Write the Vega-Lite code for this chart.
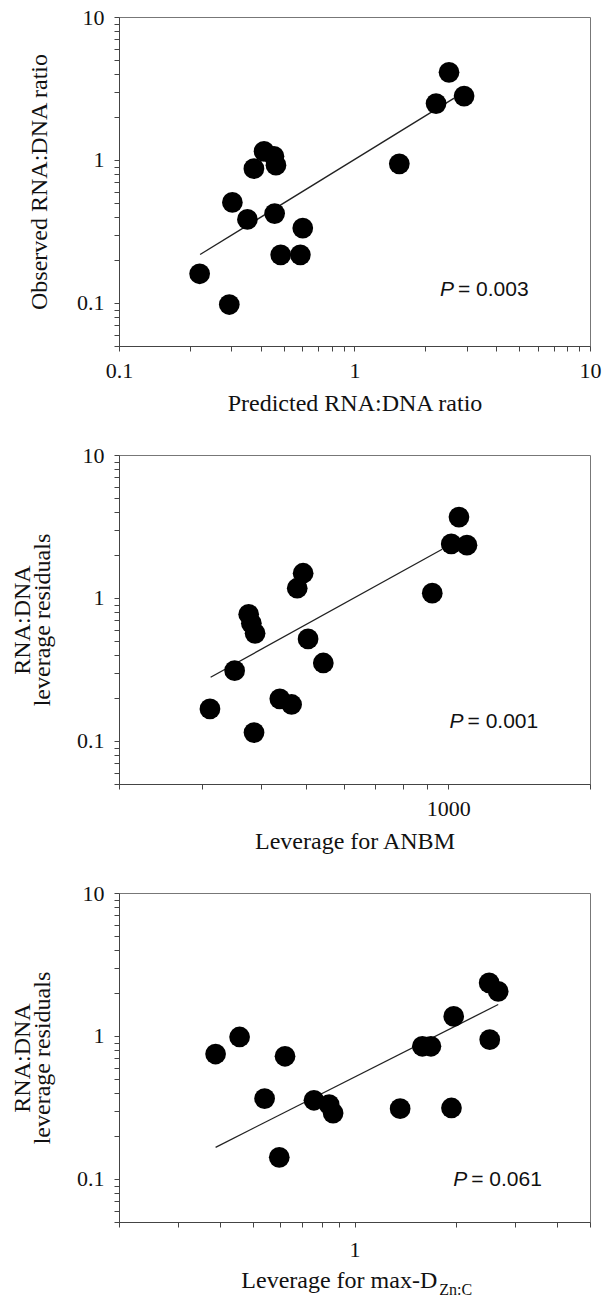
{
  "$schema": "https://vega.github.io/schema/vega-lite/v6.json",
  "background": "white",
  "padding": {"left": 10, "top": 5, "right": 5, "bottom": 5},
  "bounds": "flush",
  "spacing": 109,
  "config": {
    "view": {"stroke": "#777", "strokeWidth": 1},
    "axis": {
      "grid": false,
      "domainColor": "#444",
      "tickColor": "#444",
      "tickSize": 5,
      "labelFont": "Liberation Serif",
      "labelFontSize": 22,
      "labelColor": "#111",
      "titleFont": "Liberation Serif",
      "titleFontSize": 24,
      "titleFontWeight": "normal",
      "titleColor": "#111",
      "labelOverlap": false,
      "labelFlush": false
    },
    "axisX": {"labelPadding": 9, "titlePadding": 10},
    "axisY": {"labelPadding": 10, "titlePadding": 25}
  },
  "datasets": {
    "p1": [
      {"x": 2.52, "y": 4.1}, {"x": 2.92, "y": 2.8}, {"x": 2.22, "y": 2.48}, {"x": 1.55, "y": 0.94},
      {"x": 0.413, "y": 1.15}, {"x": 0.455, "y": 1.06}, {"x": 0.464, "y": 0.92}, {"x": 0.374, "y": 0.87},
      {"x": 0.303, "y": 0.505}, {"x": 0.351, "y": 0.384}, {"x": 0.458, "y": 0.422}, {"x": 0.603, "y": 0.334},
      {"x": 0.486, "y": 0.217}, {"x": 0.589, "y": 0.217}, {"x": 0.22, "y": 0.16}, {"x": 0.294, "y": 0.0975}
    ],
    "l1": [{"x": 0.221, "y": 0.218}, {"x": 2.65, "y": 2.71}],
    "p2": [
      {"x": 1054, "y": 3.68}, {"x": 1015, "y": 2.39}, {"x": 1096, "y": 2.34}, {"x": 925, "y": 1.08},
      {"x": 492, "y": 1.49}, {"x": 478, "y": 1.17}, {"x": 377, "y": 0.769}, {"x": 382, "y": 0.665},
      {"x": 389, "y": 0.566}, {"x": 504, "y": 0.517}, {"x": 543, "y": 0.351}, {"x": 352, "y": 0.31},
      {"x": 439, "y": 0.197}, {"x": 465, "y": 0.18}, {"x": 312, "y": 0.1675}, {"x": 387, "y": 0.1144}
    ],
    "l2": [{"x": 313, "y": 0.279}, {"x": 971, "y": 2.19}],
    "p3": [
      {"x": 2.51, "y": 2.35}, {"x": 2.67, "y": 2.05}, {"x": 1.97, "y": 1.37}, {"x": 2.52, "y": 0.942},
      {"x": 1.59, "y": 0.847}, {"x": 1.686, "y": 0.847}, {"x": 0.456, "y": 0.984}, {"x": 0.387, "y": 0.748},
      {"x": 0.622, "y": 0.721}, {"x": 0.541, "y": 0.365}, {"x": 0.758, "y": 0.355}, {"x": 0.841, "y": 0.331},
      {"x": 0.864, "y": 0.289}, {"x": 1.366, "y": 0.31}, {"x": 1.94, "y": 0.3136}, {"x": 0.598, "y": 0.1417}
    ],
    "l3": [{"x": 0.387, "y": 0.1665}, {"x": 2.67, "y": 1.66}],
    "t1": [{"p": "P", "rest": "= 0.003"}],
    "t2": [{"p": "P", "rest": "= 0.001"}],
    "t3": [{"p": "P", "rest": "= 0.061", "xt": "Leverage for max-D", "sub": "Zn:C"}]
  },
  "vconcat": [
    {
      "width": 471,
      "height": 329,
      "layer": [
        {"data": {"name": "l1"}, "mark": {"type": "line", "color": "#222", "strokeWidth": 1.3},
          "encoding": {
            "x": {"field": "x", "type": "quantitative",
              "scale": {"type": "log", "domain": [0.1, 10], "nice": false},
              "axis": {"title": "Predicted RNA:DNA ratio",
                "values": [0.1, 0.2, 0.3, 0.4, 0.5, 0.6, 0.7, 0.8, 0.9, 1, 2, 3, 4, 5, 6, 7, 8, 9, 10],
                "labelExpr": "datum.value == 0.1 ? '0.1' : datum.value == 1 ? '1' : datum.value == 10 ? '10' : ''"}},
            "y": {"field": "y", "type": "quantitative",
              "scale": {"type": "log", "domain": [0.05, 10], "nice": false},
              "axis": {"title": "Observed RNA:DNA ratio",
                "values": [0.05, 0.06, 0.07, 0.08, 0.09, 0.1, 0.2, 0.3, 0.4, 0.5, 0.6, 0.7, 0.8, 0.9, 1, 2, 3, 4, 5, 6, 7, 8, 9, 10],
                "labelExpr": "datum.value == 0.1 ? '0.1' : datum.value == 1 ? '1' : datum.value == 10 ? '10' : ''"}}}},
        {"data": {"name": "p1"}, "mark": {"type": "circle", "size": 430, "color": "black", "opacity": 1},
          "encoding": {
            "x": {"field": "x", "type": "quantitative",
              "scale": {"type": "log", "domain": [0.1, 10], "nice": false},
              "axis": {"title": "Predicted RNA:DNA ratio",
                "values": [0.1, 0.2, 0.3, 0.4, 0.5, 0.6, 0.7, 0.8, 0.9, 1, 2, 3, 4, 5, 6, 7, 8, 9, 10],
                "labelExpr": "datum.value == 0.1 ? '0.1' : datum.value == 1 ? '1' : datum.value == 10 ? '10' : ''"}},
            "y": {"field": "y", "type": "quantitative",
              "scale": {"type": "log", "domain": [0.05, 10], "nice": false},
              "axis": {"title": "Observed RNA:DNA ratio",
                "values": [0.05, 0.06, 0.07, 0.08, 0.09, 0.1, 0.2, 0.3, 0.4, 0.5, 0.6, 0.7, 0.8, 0.9, 1, 2, 3, 4, 5, 6, 7, 8, 9, 10],
                "labelExpr": "datum.value == 0.1 ? '0.1' : datum.value == 1 ? '1' : datum.value == 10 ? '10' : ''"}}}},
        {"data": {"name": "t1"},
          "mark": {"type": "text", "font": "Liberation Sans", "fontSize": 21, "fontStyle": "italic", "align": "right", "baseline": "middle", "color": "#111"},
          "encoding": {"x": {"datum": 2.645, "type": "quantitative"}, "y": {"datum": 0.124, "type": "quantitative"}, "text": {"field": "p"}}},
        {"data": {"name": "t1"},
          "mark": {"type": "text", "font": "Liberation Sans", "fontSize": 21, "align": "left", "baseline": "middle", "dx": 4, "color": "#111"},
          "encoding": {"x": {"datum": 2.645, "type": "quantitative"}, "y": {"datum": 0.124, "type": "quantitative"}, "text": {"field": "rest"}}}
      ]
    },
    {
      "width": 471,
      "height": 329,
      "layer": [
        {"data": {"name": "l2"}, "mark": {"type": "line", "color": "#222", "strokeWidth": 1.3},
          "encoding": {
            "x": {"field": "x", "type": "quantitative",
              "scale": {"type": "log", "domain": [200, 2000], "nice": false},
              "axis": {"title": "Leverage for ANBM",
                "values": [200, 300, 400, 500, 600, 700, 800, 900, 1000, 2000],
                "labelExpr": "datum.value == 1000 ? '1000' : ''"}},
            "y": {"field": "y", "type": "quantitative",
              "scale": {"type": "log", "domain": [0.05, 10], "nice": false},
              "axis": {"title": ["RNA:DNA", "leverage residuals"], "titleLineHeight": 20, "titlePadding": 22,
                "values": [0.05, 0.06, 0.07, 0.08, 0.09, 0.1, 0.2, 0.3, 0.4, 0.5, 0.6, 0.7, 0.8, 0.9, 1, 2, 3, 4, 5, 6, 7, 8, 9, 10],
                "labelExpr": "datum.value == 0.1 ? '0.1' : datum.value == 1 ? '1' : datum.value == 10 ? '10' : ''"}}}},
        {"data": {"name": "p2"}, "mark": {"type": "circle", "size": 430, "color": "black", "opacity": 1},
          "encoding": {
            "x": {"field": "x", "type": "quantitative",
              "scale": {"type": "log", "domain": [200, 2000], "nice": false},
              "axis": {"title": "Leverage for ANBM",
                "values": [200, 300, 400, 500, 600, 700, 800, 900, 1000, 2000],
                "labelExpr": "datum.value == 1000 ? '1000' : ''"}},
            "y": {"field": "y", "type": "quantitative",
              "scale": {"type": "log", "domain": [0.05, 10], "nice": false},
              "axis": {"title": ["RNA:DNA", "leverage residuals"], "titleLineHeight": 20, "titlePadding": 22,
                "values": [0.05, 0.06, 0.07, 0.08, 0.09, 0.1, 0.2, 0.3, 0.4, 0.5, 0.6, 0.7, 0.8, 0.9, 1, 2, 3, 4, 5, 6, 7, 8, 9, 10],
                "labelExpr": "datum.value == 0.1 ? '0.1' : datum.value == 1 ? '1' : datum.value == 10 ? '10' : ''"}}}},
        {"data": {"name": "t2"},
          "mark": {"type": "text", "font": "Liberation Sans", "fontSize": 21, "fontStyle": "italic", "align": "right", "baseline": "middle", "color": "#111"},
          "encoding": {"x": {"datum": 1078, "type": "quantitative"}, "y": {"datum": 0.1347, "type": "quantitative"}, "text": {"field": "p"}}},
        {"data": {"name": "t2"},
          "mark": {"type": "text", "font": "Liberation Sans", "fontSize": 21, "align": "left", "baseline": "middle", "dx": 4, "color": "#111"},
          "encoding": {"x": {"datum": 1078, "type": "quantitative"}, "y": {"datum": 0.1347, "type": "quantitative"}, "text": {"field": "rest"}}}
      ]
    },
    {
      "width": 471,
      "height": 329,
      "layer": [
        {"data": {"name": "l3"}, "mark": {"type": "line", "color": "#222", "strokeWidth": 1.3},
          "encoding": {
            "x": {"field": "x", "type": "quantitative",
              "scale": {"type": "log", "domain": [0.2, 5], "nice": false},
              "axis": {"title": null, "labelPadding": 12,
                "values": [0.2, 0.3, 0.4, 0.5, 0.6, 0.7, 0.8, 0.9, 1, 2, 3, 4, 5],
                "labelExpr": "datum.value == 1 ? '1' : ''"}},
            "y": {"field": "y", "type": "quantitative",
              "scale": {"type": "log", "domain": [0.05, 10], "nice": false},
              "axis": {"title": ["RNA:DNA", "leverage residuals"], "titleLineHeight": 20, "titlePadding": 22,
                "values": [0.05, 0.06, 0.07, 0.08, 0.09, 0.1, 0.2, 0.3, 0.4, 0.5, 0.6, 0.7, 0.8, 0.9, 1, 2, 3, 4, 5, 6, 7, 8, 9, 10],
                "labelExpr": "datum.value == 0.1 ? '0.1' : datum.value == 1 ? '1' : datum.value == 10 ? '10' : ''"}}}},
        {"data": {"name": "p3"}, "mark": {"type": "circle", "size": 430, "color": "black", "opacity": 1},
          "encoding": {
            "x": {"field": "x", "type": "quantitative",
              "scale": {"type": "log", "domain": [0.2, 5], "nice": false},
              "axis": {"title": null, "labelPadding": 12,
                "values": [0.2, 0.3, 0.4, 0.5, 0.6, 0.7, 0.8, 0.9, 1, 2, 3, 4, 5],
                "labelExpr": "datum.value == 1 ? '1' : ''"}},
            "y": {"field": "y", "type": "quantitative",
              "scale": {"type": "log", "domain": [0.05, 10], "nice": false},
              "axis": {"title": ["RNA:DNA", "leverage residuals"], "titleLineHeight": 20, "titlePadding": 22,
                "values": [0.05, 0.06, 0.07, 0.08, 0.09, 0.1, 0.2, 0.3, 0.4, 0.5, 0.6, 0.7, 0.8, 0.9, 1, 2, 3, 4, 5, 6, 7, 8, 9, 10],
                "labelExpr": "datum.value == 0.1 ? '0.1' : datum.value == 1 ? '1' : datum.value == 10 ? '10' : ''"}}}},
        {"data": {"name": "t3"},
          "mark": {"type": "text", "font": "Liberation Sans", "fontSize": 21, "fontStyle": "italic", "align": "right", "baseline": "middle", "color": "#111"},
          "encoding": {"x": {"datum": 2.16, "type": "quantitative"}, "y": {"datum": 0.099, "type": "quantitative"}, "text": {"field": "p"}}},
        {"data": {"name": "t3"},
          "mark": {"type": "text", "font": "Liberation Sans", "fontSize": 21, "align": "left", "baseline": "middle", "dx": 4, "color": "#111"},
          "encoding": {"x": {"datum": 2.16, "type": "quantitative"}, "y": {"datum": 0.099, "type": "quantitative"}, "text": {"field": "rest"}}},
        {"data": {"name": "t3"},
          "mark": {"type": "text", "font": "Liberation Serif", "fontSize": 24, "align": "right", "baseline": "middle", "dy": 59, "color": "#111"},
          "encoding": {"x": {"datum": 1.76, "type": "quantitative"}, "y": {"datum": 0.05, "type": "quantitative"}, "text": {"field": "xt"}}},
        {"data": {"name": "t3"},
          "mark": {"type": "text", "font": "Liberation Serif", "fontSize": 16, "align": "left", "baseline": "middle", "dx": 2, "dy": 68, "color": "#111"},
          "encoding": {"x": {"datum": 1.76, "type": "quantitative"}, "y": {"datum": 0.05, "type": "quantitative"}, "text": {"field": "sub"}}}
      ]
    }
  ]
}
